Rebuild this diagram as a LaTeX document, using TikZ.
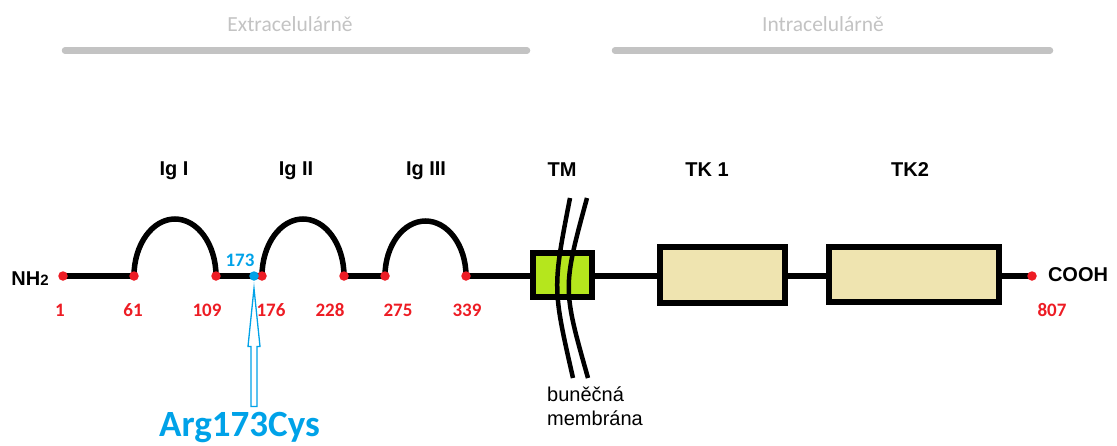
\documentclass[tikz,border=0pt]{standalone}
\usepackage{fontspec}
\setmainfont{Liberation Sans}
\newfontfamily\calib{Carlito}
\definecolor{resred}{HTML}{ED1C24}
\definecolor{mutblue}{HTML}{00A2E8}
\definecolor{tmgreen}{HTML}{B5E61D}
\definecolor{tkbeige}{HTML}{EFE4B0}
\definecolor{bargray}{HTML}{C3C3C3}

\begin{document}
\begin{tikzpicture}[x=1pt,y=-1pt,
  res/.style={circle,fill=resred,inner sep=0pt,minimum size=9.5pt},
  num/.style={anchor=base,text=resred,inner sep=0pt,font=\calib\bfseries\fontsize{19}{22}\selectfont},
  dom/.style={anchor=base,inner sep=0pt,font=\bfseries\fontsize{20}{24}\selectfont},
  chain/.style={line width=5.5pt},
  domainbox/.style={draw,line width=6pt,inner sep=0pt},
  membrane/.style={line width=4.5pt},
  region/.style={draw=bargray,line width=6.5pt,line cap=round},
  regionlabel/.style={anchor=base,inner sep=0pt,text=bargray,font=\calib\fontsize{21.5}{26}\selectfont},
  memlabel/.style={anchor=base west,inner sep=0pt,font=\fontsize{20}{24}\selectfont},
  arrowline/.style={draw=mutblue,line width=1.3pt,fill=white,line join=miter}
]
\useasboundingbox (0,0) rectangle (1117,445);

% extracellular / intracellular regions
\node[regionlabel] (extra) at (290,31) {Extracelulárně};
\node[regionlabel] (intra) at (823,31) {Intracelulárně};
\coordinate (ex1) at (65,50.5);
\coordinate (ex2) at (527,50.5);
\coordinate (in1) at (615,50.5);
\coordinate (in2) at (1050,50.5);
\draw[region] (ex1) -- (ex2);
\draw[region] (in1) -- (in2);

% residue positions along the chain
\coordinate (p1) at (63,276);
\coordinate (p61) at (134,276);
\coordinate (p109) at (216,276);
\coordinate (p173) at (254,276);
\coordinate (p176) at (262,276);
\coordinate (p228) at (344,276);
\coordinate (p275) at (385,276);
\coordinate (p339) at (466,276);
\coordinate (pC) at (1032,276);

% domain boxes (positions only; drawn over the chain below)
\coordinate (tmc) at (562.5,275);
\coordinate (tk1c) at (722.5,275);
\coordinate (tk2c) at (914,274.5);
\path (tmc) node[minimum width=65pt,minimum height=50pt,inner sep=0pt] (tm) {};
\path (tk1c) node[minimum width=131pt,minimum height=62pt,inner sep=0pt] (tk1) {};
\path (tk2c) node[minimum width=176pt,minimum height=61pt,inner sep=0pt] (tk2) {};

% chain segments and Ig loops
\draw[chain] (p1) -- (p61);
\draw[chain] (p61) arc[start angle=180,end angle=360,x radius=41,y radius=57];
\draw[chain] (p109) -- (p176);
\draw[chain] (p176) arc[start angle=180,end angle=360,x radius=41,y radius=57];
\draw[chain] (p228) -- (p275);
\draw[chain] (p275) arc[start angle=180,end angle=360,x radius=40.5,y radius=55];
\draw[chain] (p339) -- (p339 -| tm.west);
\draw[chain] (p339 -| tm.east) -- (p339 -| tk1.west);
\draw[chain] (p339 -| tk1.east) -- (p339 -| tk2.west);
\draw[chain] (p339 -| tk2.east) -- (pC);

% drawn domain boxes
\node[domainbox,fill=tmgreen,minimum width=59pt,minimum height=44pt] (tmbox) at (tmc) {};
\node[domainbox,fill=tkbeige,minimum width=125pt,minimum height=56pt] (tk1box) at (tk1c) {};
\node[domainbox,fill=tkbeige,minimum width=170pt,minimum height=55pt] (tk2box) at (tk2c) {};

% cell membrane
\draw[membrane] (570,198) .. controls (552.5,288) .. (573,378);
\draw[membrane] (587,198) .. controls (562.5,288) .. (588,378);
\node[memlabel] (mem1) at (547,401) {buněčná};
\node[memlabel] (mem2) at (547,425) {membrána};

% residue dots
\node[res] (d1) at (p1) {};
\node[res] (d61) at (p61) {};
\node[res] (d109) at (p109) {};
\node[res] (d176) at (p176) {};
\node[res] (d228) at (p228) {};
\node[res] (d275) at (p275) {};
\node[res] (d339) at (p339) {};
\node[res] (dC) at (pC) {};
\node[res,fill=mutblue] (d173) at (p173) {};

% residue numbers
\node[num] (n1) at (60,316) {1};
\node[num] (n61) at (133,316) {61};
\node[num] (n109) at (207,316) {109};
\node[num] (n176) at (271,316) {176};
\node[num] (n228) at (330,316) {228};
\node[num] (n275) at (398,316) {275};
\node[num] (n339) at (467,316) {339};
\node[num] (n807) at (1052,316) {807};
\node[num,text=mutblue] (n173) at (240,266) {173};

% termini
\node[dom] (nh) at (30,285) {NH{\fontsize{15}{18}\selectfont 2}};
\node[dom] (cooh) at (1078,281) {COOH};

% domain labels
\node[dom] (ig1) at (174,175) {Ig I};
\node[dom] (ig2) at (296,175) {Ig II};
\node[dom] (ig3) at (426,175) {Ig III};
\node[dom] (tml) at (562,176) {TM};
\node[dom] (tk1l) at (707,176) {TK 1};
\node[dom] (tk2l) at (910,176) {TK2};

% mutation
\node[anchor=base,inner sep=0pt,text=mutblue,font=\calib\bfseries\fontsize{37}{44}\selectfont] (arg) at (239.5,436) {Arg173Cys};
\coordinate (atip) at ([yshift=-7.5pt]d173.south);
\draw[arrowline] (atip) -- ++(6,58) -- ++(-3,0) -- ++(0,60) -- ++(-6,0) -- ++(0,-60) -- ++(-3,0) -- cycle;
\end{tikzpicture}
\end{document}
